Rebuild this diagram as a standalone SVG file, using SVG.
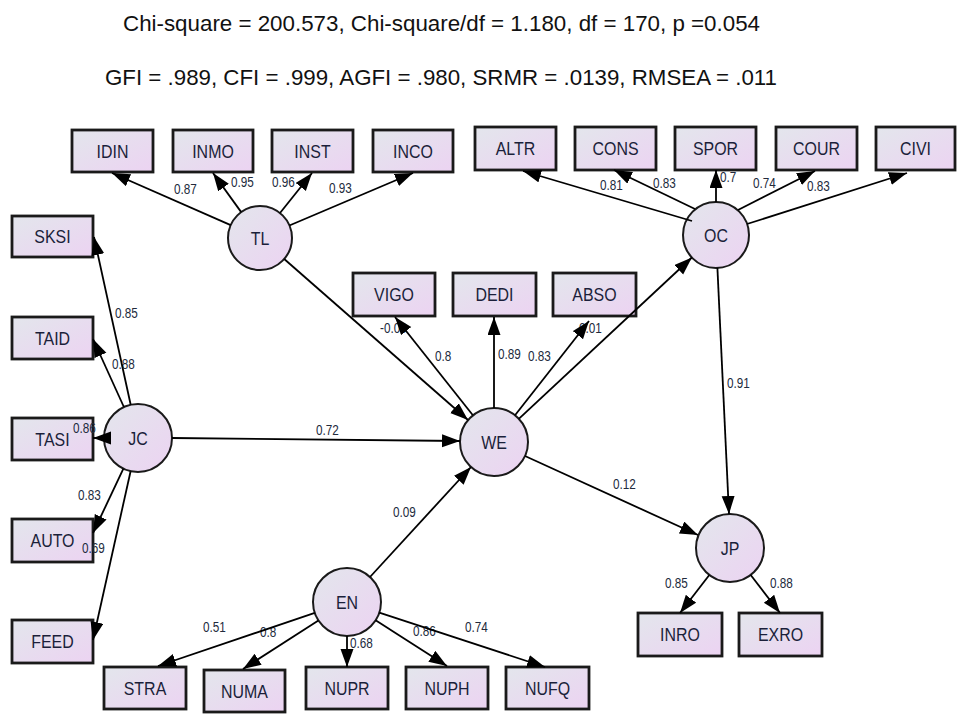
<svg xmlns="http://www.w3.org/2000/svg" width="961" height="722" viewBox="0 0 961 722">
  <defs>
    <linearGradient id="fill" x1="0" y1="0" x2="1" y2="1">
      <stop offset="0" stop-color="#e3e6ec"/>
      <stop offset="1" stop-color="#ecd3f2"/>
    </linearGradient>
    <marker id="arrow" markerUnits="userSpaceOnUse" markerWidth="19" markerHeight="14" refX="18" refY="6.5" orient="auto">
      <path d="M0,0 L18,6.5 L0,13 z" fill="#000"/>
    </marker>
    <style>
      .box { fill: url(#fill); stroke: #1a1a1a; stroke-width: 2.8; }
      .lat { fill: url(#fill); stroke: #1a1a1a; stroke-width: 2; }
      .name { font-family: "Liberation Sans", Arial, sans-serif; font-size: 19px; fill: #1b1f3a; text-anchor: middle; }
      .coef { font-family: "Liberation Sans", Arial, sans-serif; font-size: 14px; fill: #222a3c; }
      .head { font-family: "Liberation Sans", Arial, sans-serif; font-size: 22px; fill: #111; }
      .edge { stroke: #000; stroke-width: 1.8; fill: none; marker-end: url(#arrow); }
    </style>
  </defs>
  <rect width="961" height="722" fill="#fff"/>

  <!-- fit statistics -->
  <text class="head" x="123" y="31" textLength="637" lengthAdjust="spacingAndGlyphs">Chi-square = 200.573, Chi-square/df = 1.180, df = 170, p =0.054</text>
  <text class="head" x="105" y="85" textLength="672" lengthAdjust="spacingAndGlyphs">GFI = .989, CFI = .999, AGFI = .980, SRMR = .0139, RMSEA = .011</text>

  <!-- observed indicators (labels drawn slightly condensed) -->
  <g id="IDIN"><rect class="box" x="72" y="130" width="81" height="42"/><text class="name" transform="matrix(0.84 0 0 1 112.5 158)">IDIN</text></g>
  <g id="INMO"><rect class="box" x="173" y="130" width="80" height="42"/><text class="name" transform="matrix(0.84 0 0 1 213 158)">INMO</text></g>
  <g id="INST"><rect class="box" x="272" y="130" width="81" height="42"/><text class="name" transform="matrix(0.84 0 0 1 312.5 158)">INST</text></g>
  <g id="INCO"><rect class="box" x="373" y="130" width="80" height="42"/><text class="name" transform="matrix(0.84 0 0 1 413 158)">INCO</text></g>

  <g id="ALTR"><rect class="box" x="475" y="127" width="81" height="43"/><text class="name" transform="matrix(0.84 0 0 1 515.5 155)">ALTR</text></g>
  <g id="CONS"><rect class="box" x="575" y="127" width="81" height="43"/><text class="name" transform="matrix(0.84 0 0 1 615.5 155)">CONS</text></g>
  <g id="SPOR"><rect class="box" x="675" y="127" width="81" height="43"/><text class="name" transform="matrix(0.84 0 0 1 715.5 155)">SPOR</text></g>
  <g id="COUR"><rect class="box" x="776" y="127" width="81" height="43"/><text class="name" transform="matrix(0.84 0 0 1 816.5 155)">COUR</text></g>
  <g id="CIVI"><rect class="box" x="876" y="127" width="79" height="43"/><text class="name" transform="matrix(0.84 0 0 1 915.5 155)">CIVI</text></g>

  <g id="SKSI"><rect class="box" x="12" y="216" width="81" height="41"/><text class="name" transform="matrix(0.84 0 0 1 52.5 243)">SKSI</text></g>
  <g id="TAID"><rect class="box" x="12" y="317" width="81" height="42"/><text class="name" transform="matrix(0.84 0 0 1 52.5 345)">TAID</text></g>
  <g id="TASI"><rect class="box" x="12" y="418" width="81" height="42"/><text class="name" transform="matrix(0.84 0 0 1 52.5 446)">TASI</text></g>
  <g id="AUTO"><rect class="box" x="12" y="519" width="81" height="43"/><text class="name" transform="matrix(0.84 0 0 1 52.5 547)">AUTO</text></g>
  <g id="FEED"><rect class="box" x="12" y="620" width="81" height="43"/><text class="name" transform="matrix(0.84 0 0 1 52.5 648)">FEED</text></g>

  <g id="VIGO"><rect class="box" x="353" y="273" width="82" height="43"/><text class="name" transform="matrix(0.84 0 0 1 394 301)">VIGO</text></g>
  <g id="DEDI"><rect class="box" x="453" y="273" width="83" height="43"/><text class="name" transform="matrix(0.84 0 0 1 494.5 301)">DEDI</text></g>
  <g id="ABSO"><rect class="box" x="553" y="273" width="83" height="43"/><text class="name" transform="matrix(0.84 0 0 1 594.5 301)">ABSO</text></g>

  <g id="STRA"><rect class="box" x="104" y="667" width="82" height="42"/><text class="name" transform="matrix(0.84 0 0 1 145 695)">STRA</text></g>
  <g id="NUMA"><rect class="box" x="204" y="670" width="81" height="42"/><text class="name" transform="matrix(0.84 0 0 1 244.5 698)">NUMA</text></g>
  <g id="NUPR"><rect class="box" x="306" y="667" width="82" height="42"/><text class="name" transform="matrix(0.84 0 0 1 347 695)">NUPR</text></g>
  <g id="NUPH"><rect class="box" x="406" y="667" width="82" height="42"/><text class="name" transform="matrix(0.84 0 0 1 447 695)">NUPH</text></g>
  <g id="NUFQ"><rect class="box" x="506" y="667" width="83" height="42"/><text class="name" transform="matrix(0.84 0 0 1 547.5 695)">NUFQ</text></g>

  <g id="INRO"><rect class="box" x="638" y="613" width="84" height="43"/><text class="name" transform="matrix(0.84 0 0 1 680 641)">INRO</text></g>
  <g id="EXRO"><rect class="box" x="739" y="613" width="83" height="43"/><text class="name" transform="matrix(0.84 0 0 1 780.5 641)">EXRO</text></g>

  <!-- latent constructs -->
  <g id="TL"><circle class="lat" cx="260" cy="238" r="32"/><text class="name" transform="matrix(0.84 0 0 1 260 245)">TL</text></g>
  <g id="OC"><circle class="lat" cx="716" cy="235" r="33"/><text class="name" transform="matrix(0.84 0 0 1 716 242)">OC</text></g>
  <g id="JC"><circle class="lat" cx="138" cy="438" r="34"/><text class="name" transform="matrix(0.84 0 0 1 138 445)">JC</text></g>
  <g id="WE"><circle class="lat" cx="494" cy="442" r="34"/><text class="name" transform="matrix(0.84 0 0 1 494 449)">WE</text></g>
  <g id="EN"><circle class="lat" cx="347" cy="602" r="34"/><text class="name" transform="matrix(0.84 0 0 1 347 609)">EN</text></g>
  <g id="JP"><circle class="lat" cx="730" cy="548" r="34"/><text class="name" transform="matrix(0.84 0 0 1 730 555)">JP</text></g>

  <!-- path coefficients; x values are in the condensed (0.84) frame -->
  <g id="coefficients" class="coef" transform="scale(0.84 1)">
    <text x="207.1" y="194">0.87</text>
    <text x="275" y="187">0.95</text>
    <text x="323.8" y="187">0.96</text>
    <text x="391.7" y="193">0.93</text>
    <text x="714.3" y="190">0.81</text>
    <text x="777.4" y="188">0.83</text>
    <text x="857.1" y="182">0.7</text>
    <text x="896.4" y="188">0.74</text>
    <text x="960.7" y="191">0.83</text>
    <text x="136.9" y="318">0.85</text>
    <text x="133.3" y="369">0.88</text>
    <text x="86.9" y="433">0.86</text>
    <text x="92.9" y="500">0.83</text>
    <text x="97.6" y="553">0.69</text>
    <text x="376.2" y="435">0.72</text>
    <text x="452.4" y="333">-0.09</text>
    <text x="517.9" y="361">0.8</text>
    <text x="592.9" y="359">0.89</text>
    <text x="628.6" y="361">0.83</text>
    <text x="689.3" y="333">0.01</text>
    <text x="865.5" y="388">0.91</text>
    <text x="729.8" y="489">0.12</text>
    <text x="467.9" y="517">0.09</text>
    <text x="791.7" y="588">0.85</text>
    <text x="916.7" y="588">0.88</text>
    <text x="241.7" y="632">0.51</text>
    <text x="309.5" y="637">0.8</text>
    <text x="416.7" y="648">0.68</text>
    <text x="491.7" y="636">0.86</text>
    <text x="553.6" y="632">0.74</text>
  </g>

  <!-- paths and loadings -->
  <g id="connectors">
    <line class="edge" x1="230.7" y1="225.1" x2="112" y2="173"/>
    <line class="edge" x1="241.2" y1="212.1" x2="213" y2="173"/>
    <line class="edge" x1="280" y1="213" x2="312" y2="173"/>
    <line class="edge" x1="289.4" y1="225.5" x2="413" y2="173"/>
    <line class="edge" x1="284.2" y1="259" x2="468" y2="420"/>

    <line class="edge" x1="692" y1="221" x2="523" y2="171"/>
    <line class="edge" x1="695" y1="209" x2="614" y2="170"/>
    <line class="edge" x1="716" y1="202" x2="716" y2="170"/>
    <line class="edge" x1="738" y1="210" x2="815" y2="171"/>
    <line class="edge" x1="747" y1="224" x2="907" y2="173"/>

    <line class="edge" x1="130.7" y1="404.8" x2="94" y2="237"/>
    <line class="edge" x1="123.9" y1="407" x2="93" y2="339"/>
    <line class="edge" x1="106" y1="438" x2="93" y2="438"/>
    <line class="edge" x1="123.4" y1="468.7" x2="93" y2="533"/>
    <line class="edge" x1="130.6" y1="471.2" x2="93" y2="640"/>
    <line class="edge" x1="172" y1="438" x2="460" y2="441"/>

    <line class="edge" x1="472.9" y1="415.3" x2="395" y2="317"/>
    <line class="edge" x1="494" y1="408" x2="494" y2="317"/>
    <line class="edge" x1="515" y1="415.2" x2="589" y2="321"/>
    <line class="edge" x1="518.8" y1="418.8" x2="691.9" y2="257.5"/>
    <line class="edge" x1="525" y1="456" x2="698" y2="535"/>

    <line class="edge" x1="717.4" y1="268" x2="729" y2="514"/>
    <line class="edge" x1="709.3" y1="575" x2="680" y2="613"/>
    <line class="edge" x1="750.7" y1="575" x2="780" y2="613"/>

    <line class="edge" x1="370" y1="577" x2="471" y2="467"/>
    <line class="edge" x1="314.8" y1="612.9" x2="158" y2="666"/>
    <line class="edge" x1="318.4" y1="620.4" x2="243" y2="669"/>
    <line class="edge" x1="347" y1="636" x2="347" y2="667"/>
    <line class="edge" x1="375.6" y1="620.3" x2="447" y2="666"/>
    <line class="edge" x1="379.3" y1="612.6" x2="545" y2="667"/>
  </g>
</svg>
